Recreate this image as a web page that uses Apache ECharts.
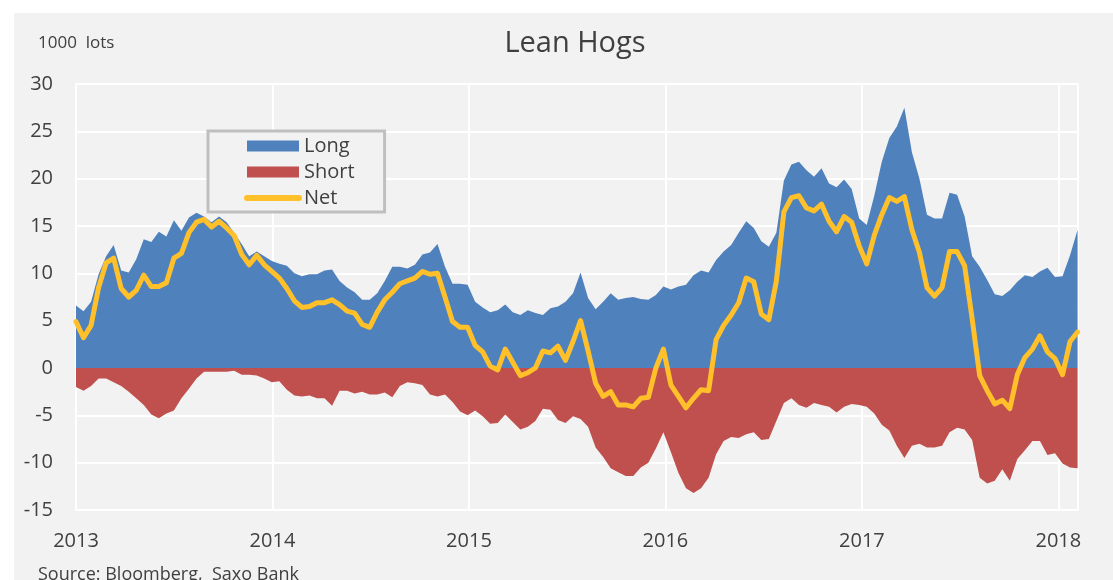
<!DOCTYPE html>
<html>
<head>
<meta charset="utf-8">
<script src="https://cdn.jsdelivr.net/npm/echarts@6/dist/echarts.min.js"></script>
<style>
  html, body { margin: 0; padding: 0; background: #ffffff; }
  #chart { position: absolute; left: 14px; top: 13px; width: 1099px; height: 567px; background: #f2f2f2; }
</style>
</head>
<body>
<div id="chart"></div>
<script>
// fortnightly readings, first point 2013-01-01, 1000 lots
const startYear = 2013
const stepDays = 14

const longLots = [
  6.6, 6.0, 7.0, 9.9, 11.8, 13.0, 10.3, 10.1, 11.5, 13.6,
  13.3, 14.4, 13.9, 15.6, 14.5, 15.9, 16.4, 16.0, 15.4, 16.0,
  15.4, 14.3, 13.1, 11.8, 12.3, 11.8, 11.3, 11.0, 10.8, 10.0,
  9.7, 9.9, 9.9, 10.3, 10.4, 9.2, 8.5, 8.0, 7.2, 7.2,
  7.9, 9.2, 10.7, 10.7, 10.5, 10.9, 12.0, 12.2, 13.1, 10.7,
  8.9, 8.9, 8.8, 7.0, 6.4, 5.9, 6.1, 6.7, 5.9, 5.6,
  6.1, 5.8, 5.6, 6.3, 6.5, 7.0, 7.9, 10.1, 7.4, 6.2,
  7.0, 7.9, 7.2, 7.4, 7.5, 7.3, 7.2, 7.7, 8.6, 8.3,
  8.6, 8.8, 9.8, 10.3, 10.1, 11.4, 12.3, 13.0, 14.3, 15.5,
  14.8, 13.4, 12.8, 14.3, 19.8, 21.5, 21.8, 20.9, 20.2, 21.1,
  19.5, 19.1, 19.9, 18.9, 15.8, 15.1, 18.2, 21.8, 24.3, 25.5,
  27.5, 22.8, 20.0, 16.2, 15.8, 15.8, 18.5, 18.3, 16.0, 11.8,
  10.7, 9.3, 7.8, 7.6, 8.2, 9.1, 9.8, 9.6, 10.2, 10.6,
  9.6, 9.7, 11.9, 14.6
]

const shortLots = [
  -2.0, -2.4, -1.9, -1.1, -1.1, -1.5, -1.9, -2.5, -3.2, -3.9,
  -4.9, -5.3, -4.8, -4.5, -3.2, -2.2, -1.1, -0.4, -0.4, -0.4,
  -0.4, -0.3, -0.7, -0.7, -0.8, -1.1, -1.5, -1.4, -2.3, -2.9,
  -3.0, -2.9, -3.2, -3.2, -4.0, -2.4, -2.4, -2.7, -2.5, -2.8,
  -2.8, -2.6, -3.1, -1.9, -1.5, -1.6, -1.8, -2.8, -3.0, -2.8,
  -3.6, -4.6, -5.0, -4.5, -5.1, -5.9, -5.8, -4.9, -5.7, -6.5,
  -6.2, -5.6, -4.3, -4.4, -5.5, -5.8, -5.1, -5.4, -6.2, -8.4,
  -9.4, -10.6, -11.0, -11.4, -11.4, -10.5, -10.0, -8.5, -6.8, -8.9,
  -11.1, -12.7, -13.2, -12.7, -11.6, -9.1, -7.7, -7.3, -7.4, -7.0,
  -6.8, -7.6, -7.5, -5.6, -3.7, -3.2, -3.9, -4.2, -3.7, -3.9,
  -4.1, -4.7, -4.1, -3.8, -3.9, -4.1, -4.8, -6.0, -6.6, -8.2,
  -9.5, -8.2, -8.0, -8.4, -8.4, -8.2, -6.8, -6.3, -6.5, -7.6,
  -11.6, -12.2, -11.9, -10.7, -11.9, -9.6, -8.7, -7.7, -7.7, -9.2,
  -9.0, -10.1, -10.5, -10.6
]

const netLots = [
  4.9, 3.2, 4.5, 8.5, 11.1, 11.6, 8.4, 7.5, 8.2, 9.8,
  8.6, 8.6, 9.0, 11.6, 12.1, 14.3, 15.4, 15.7, 14.9, 15.5,
  14.8, 14.0, 12.0, 10.9, 11.9, 10.9, 10.2, 9.5, 8.4, 7.1,
  6.4, 6.5, 6.9, 6.9, 7.2, 6.7, 6.0, 5.8, 4.6, 4.3,
  5.9, 7.2, 8.0, 8.9, 9.2, 9.5, 10.2, 9.9, 10.0, 7.5,
  4.9, 4.3, 4.3, 2.4, 1.7, 0.2, -0.2, 2.0, 0.6, -0.8,
  -0.5, 0.0, 1.8, 1.6, 2.3, 0.8, 2.8, 5.0, 1.8, -1.6,
  -3.0, -2.5, -3.9, -3.9, -4.1, -3.2, -3.1, 0.0, 2.0, -1.8,
  -3.0, -4.2, -3.2, -2.3, -2.4, 3.0, 4.5, 5.6, 6.9, 9.5,
  9.1, 5.7, 5.1, 9.2, 16.5, 18.0, 18.2, 16.9, 16.6, 17.3,
  15.5, 14.4, 16.0, 15.4, 12.9, 11.0, 14.0, 16.2, 18.0, 17.6,
  18.1, 14.6, 12.2, 8.5, 7.6, 8.5, 12.3, 12.3, 10.8, 5.2,
  -0.8, -2.4, -3.8, -3.4, -4.3, -0.7, 1.1, 2.0, 3.4, 1.7,
  1.0, -0.7, 2.8, 3.8
]

const seriesNames = ['Long', 'Short', 'Net']
const seriesColors = ['#4f81bd', '#c0504d', '#ffc02a']

const font = 'Open Sans'
const textColor = '#404040'

// date of each reading as a decimal year
const toPairs = (vals) => vals.map((v, i) => [startYear + i * stepDays / 365.25, v])

const chart = echarts.init(document.getElementById('chart'))

const option = {
  backgroundColor: '#f2f2f2',
  animation: false,
  textStyle: { fontFamily: font },
  grid: { left: 62, right: 35, top: 71, bottom: 70 },
  xAxis: {
    type: 'value',
    min: 2013,
    max: 2018.1,
    interval: 1,
    axisLine: { show: false },
    axisTick: { show: false },
    axisLabel: {
      color: textColor, fontSize: 20, fontFamily: font, margin: 21,
      showMaxLabel: false,
      formatter: (v) => (Number.isInteger(v) ? String(v) : '')
    },
    splitLine: { show: true, lineStyle: { color: '#ffffff', width: 2 } }
  },
  yAxis: {
    type: 'value',
    min: -15,
    max: 30,
    interval: 5,
    axisLine: { show: false },
    axisTick: { show: false },
    axisLabel: { color: textColor, fontSize: 20, fontFamily: font, margin: 23 },
    splitLine: { lineStyle: { color: '#ffffff', width: 2 } }
  },
  legend: {
    orient: 'vertical',
    left: 194,
    top: 118,
    itemWidth: 52,
    itemHeight: 11,
    itemGap: 4,
    padding: [4, 30, 3, 36],
    borderColor: '#bfbfbf',
    borderWidth: 3,
    backgroundColor: '#f2f2f2',
    textStyle: { color: textColor, fontSize: 20, fontFamily: font, lineHeight: 22 },
    data: [
      { name: 'Long', icon: 'rect' },
      { name: 'Short', icon: 'rect' },
      { name: 'Net', itemStyle: { opacity: 0 }, lineStyle: { width: 6, cap: 'round' } }
    ]
  },
  graphic: [
    {
      type: 'text', x: 561, y: 31,
      style: { text: 'Lean Hogs', fill: textColor, fontSize: 29, fontFamily: font, align: 'center', verticalAlign: 'middle' }
    },
    {
      type: 'text', x: 24, y: 30,
      style: { text: '1000  lots', fill: textColor, fontSize: 17, fontFamily: font, align: 'left', verticalAlign: 'middle' }
    },
    {
      type: 'text', x: 24, y: 562,
      style: { text: 'Source: Bloomberg,  Saxo Bank', fill: textColor, fontSize: 18, fontFamily: font, align: 'left', verticalAlign: 'middle' }
    }
  ],
  series: [
    {
      name: seriesNames[0], type: 'line', data: toPairs(longLots),
      showSymbol: false, symbol: 'none', color: seriesColors[0],
      lineStyle: { width: 0 }, areaStyle: { color: seriesColors[0], opacity: 1 }, z: 1
    },
    {
      name: seriesNames[1], type: 'line', data: toPairs(shortLots),
      showSymbol: false, symbol: 'none', color: seriesColors[1],
      lineStyle: { width: 0 }, areaStyle: { color: seriesColors[1], opacity: 1 }, z: 1
    },
    {
      name: seriesNames[2], type: 'line', data: toPairs(netLots),
      showSymbol: false, symbol: 'none', color: seriesColors[2],
      lineStyle: { width: 5, cap: 'round', join: 'round' }, z: 3
    }
  ]
}

chart.setOption(option)
</script>
</body>
</html>
